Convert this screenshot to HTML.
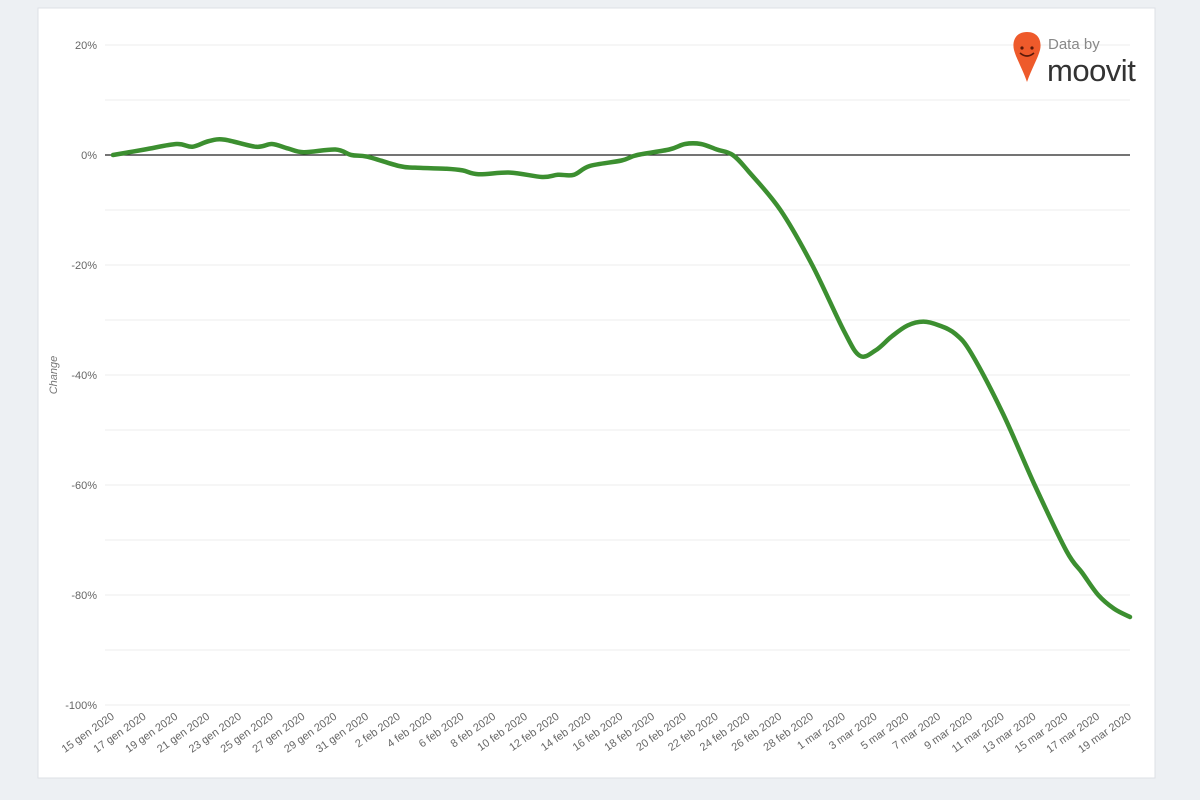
<!DOCTYPE html>
<html><head><meta charset="utf-8"><style>
html,body{margin:0;padding:0;width:1200px;height:800px;background:#edf0f3;overflow:hidden}
svg{position:absolute;left:0;top:0}
text{font-family:"Liberation Sans",sans-serif}
</style></head><body>
<svg id="s" width="1200" height="800" xmlns="http://www.w3.org/2000/svg">
<rect x="38" y="8" width="1117" height="770" fill="#fff" stroke="#dde1e5"/>
<g id="grid"></g>
<line x1="105" y1="155" x2="1130" y2="155" stroke="#222" stroke-width="1.3"/>
<text x="57" y="375" transform="rotate(-90 57 375)" text-anchor="middle" font-size="11" font-style="italic" fill="#777">Change</text>
<g id="xl"></g>
<path id="ln" fill="none" stroke="#3c8f30" stroke-width="4.5" stroke-linejoin="round" stroke-linecap="round"/>
<g>
<path d="M1027 32 C1015 32 1012 42 1014 50 C1016 58 1023 70 1027 82 C1031 70 1038 58 1040 50 C1042 42 1039 32 1027 32Z" fill="#ee5a2b"/>
<circle cx="1022" cy="48" r="1.6" fill="#5a1a0a"/><circle cx="1032" cy="48" r="1.6" fill="#5a1a0a"/>
<path d="M1020 53 Q1027 59 1034 53" stroke="#5a1a0a" stroke-width="1.6" fill="none"/>
<text x="1048" y="49" font-size="15" fill="#888">Data by</text>
<text x="1047" y="81" font-size="31" fill="#333" letter-spacing="-0.5">moovit</text>
</g>
</svg>
<script>
var g=document.getElementById('grid'),ns='http://www.w3.org/2000/svg',h='';
function Y(v){return 155-v*5.5;}
for(var v=20;v>=-100;v-=10){var y=Y(v);
 h+='<line x1="105" x2="1130" y1="'+y+'" y2="'+y+'" stroke="#ececec" stroke-width="1"/>';
 if(v%20==0)h+='<text x="97" y="'+(y+4)+'" text-anchor="end" font-size="11" fill="#666">'+v+'%</text>';}
g.innerHTML=h;
var labs=[],m=['gen',15,31],f=['feb',1,29],r=['mar',1,19],days=[];
for(var d=15;d<=31;d++)days.push(d+' gen 2020');
for(var d=1;d<=29;d++)days.push(d+' feb 2020');
for(var d=1;d<=19;d++)days.push(d+' mar 2020');
var xh='';
for(var i=0;i<=64;i+=2){var x=113+i*(1017/64);
 xh+='<text x="'+(x+2)+'" y="718" text-anchor="end" font-size="11" fill="#666" transform="rotate(-35 '+(x+2)+' 718)">'+days[i]+'</text>';}
document.getElementById('xl').innerHTML=xh;
var P=[[0,0],[2,1],[4,2],[5,1.5],[6,2.5],[7,2.8],[9,1.5],[10,2],[11,1.2],[12,0.5],[14,1],[15,0],[16,-0.3],[18,-2],[19,-2.3],[21,-2.5],[22,-2.8],[23,-3.5],[25,-3.2],[27,-4],[28,-3.6],[29,-3.6],[30,-2],[32,-1],[33,0],[35,1],[36,2],[37,2],[38,1],[39,0],[40,-3],[42,-10],[44,-20],[46,-32],[47,-36.5],[48,-35.5],[49,-33],[50,-31],[51,-30.3],[52,-31],[53,-32.5],[54,-36],[56,-47],[58,-60],[60,-72],[61,-76],[62,-80],[63,-82.5],[64,-84]];
var pts=P.map(function(p){return [113+p[0]*1017/64,Y(p[1])];});
var d='M'+pts[0][0]+' '+pts[0][1];
for(var i=0;i<pts.length-1;i++){var p0=pts[i-1]||pts[i],p1=pts[i],p2=pts[i+1],p3=pts[i+2]||p2;
 d+=' C'+(p1[0]+(p2[0]-p0[0])/6)+' '+(p1[1]+(p2[1]-p0[1])/6)+' '+(p2[0]-(p3[0]-p1[0])/6)+' '+(p2[1]-(p3[1]-p1[1])/6)+' '+p2[0]+' '+p2[1];}
document.getElementById('ln').setAttribute('d',d);
</script>
</body></html>
